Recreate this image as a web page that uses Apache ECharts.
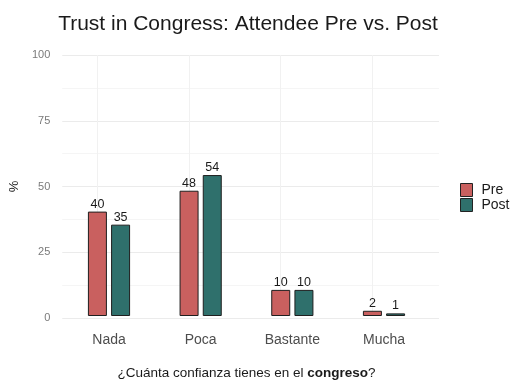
<!DOCTYPE html>
<html>
<head>
<meta charset="utf-8">
<script src="https://cdn.jsdelivr.net/npm/echarts@6/dist/echarts.min.js"></script>
<style>
  html, body { margin: 0; padding: 0; background: #ffffff; }
  #chart { width: 518px; height: 385px; }
</style>
</head>
<body>
<div id="chart"></div>
<script>
// Trust in Congress, attendees before and after
const categories = ['Nada', 'Poca', 'Bastante', 'Mucha'];
const preValues = [40, 48, 10, 2];
const postValues = [35, 54, 10, 1];
const yTicks = [0, 25, 50, 75, 100];

const PRE_COLOR = '#c9605f';
const POST_COLOR = '#2f706c';
const FONT = '"Liberation Sans", Arial, sans-serif';

const chart = echarts.init(document.getElementById('chart'), null, { renderer: 'canvas' });

// Panel spans 0.4..4.6 in category units (ggplot-style expansion),
// bars sit in the inner grid whose bands are one unit wide.
const PANEL_LEFT = 54, PANEL_RIGHT = 439;
const unit = (PANEL_RIGHT - PANEL_LEFT) / 4.2;
const innerLeft = PANEL_LEFT + 0.1 * unit;
const innerRight = 518 - (PANEL_RIGHT - 0.1 * unit);
const TOP = 55, BOTTOM = 385 - 318;

const labelStyle = {
  show: true,
  position: 'top',
  distance: 1,
  color: '#1a1a1a',
  fontSize: 12.5,
  fontFamily: FONT
};

chart.setOption({
  animation: false,
  title: {
    text: 'Trust in Congress: Attendee Pre vs. Post',
    left: 243,
    textAlign: 'center',
    top: 9,
    textStyle: { fontFamily: FONT, fontSize: 21, fontWeight: 'normal', color: '#1a1a1a' }
  },
  legend: {
    orient: 'vertical',
    left: 455,
    top: 178,
    itemWidth: 12,
    itemHeight: 13,
    itemGap: 1,
    icon: 'rect',
    data: ['Pre', 'Post'],
    textStyle: { fontFamily: FONT, fontSize: 14, color: '#1a1a1a', padding: [0, 0, 0, 4] },
    itemStyle: { borderColor: '#222222', borderWidth: 1 }
  },
  grid: [
    { left: PANEL_LEFT, right: 518 - PANEL_RIGHT, top: TOP, bottom: BOTTOM },
    { left: innerLeft, right: innerRight, top: TOP, bottom: BOTTOM }
  ],
  xAxis: [
    {
      gridIndex: 0, type: 'value', min: 0.4, max: 4.6,
      axisLine: { show: false }, axisTick: { show: false }, axisLabel: { show: false },
      splitLine: { show: false }
    },
    {
      gridIndex: 1, type: 'category', data: categories,
      axisLine: { show: false }, axisTick: { show: false },
      axisLabel: { color: '#4d4d4d', fontSize: 14, fontFamily: FONT, margin: 17 },
      name: '{n|¿Cuánta confianza tienes en el }{b|congreso}{n|?}',
      nameLocation: 'middle',
      nameGap: 50,
      nameTextStyle: {
        rich: {
          n: { fontFamily: FONT, fontSize: 13.5, color: '#1a1a1a' },
          b: { fontFamily: FONT, fontSize: 13.5, color: '#1a1a1a', fontWeight: 'bold' }
        }
      }
    }
  ],
  yAxis: [
    {
      gridIndex: 0, type: 'value', min: 0, max: 100, interval: 25,
      axisLine: { show: false }, axisTick: { show: false },
      axisLabel: { color: '#7a7a7a', fontSize: 11, fontFamily: FONT, margin: 12 },
      splitLine: { lineStyle: { color: '#ebebeb', width: 1.1 } },
      minorTick: { show: false, splitNumber: 2 },
      minorSplitLine: { show: true, lineStyle: { color: '#f3f3f3', width: 0.8 } },
      name: '%',
      nameLocation: 'middle',
      nameGap: 38,
      nameRotate: 90,
      nameTextStyle: { fontFamily: FONT, fontSize: 13, color: '#1a1a1a' }
    },
    {
      gridIndex: 1, type: 'value', min: 0, max: 100,
      axisLine: { show: false }, axisTick: { show: false }, axisLabel: { show: false },
      splitLine: { show: false }
    }
  ],
  series: [
    {
      name: 'Pre', type: 'bar', xAxisIndex: 1, yAxisIndex: 1,
      data: preValues,
      barWidth: 19, barGap: '22%',
      itemStyle: { color: PRE_COLOR, borderColor: '#1f1f1f', borderWidth: 1 },
      label: labelStyle,
      markLine: {
        silent: true, symbol: 'none', label: { show: false },
        lineStyle: { color: '#f1f1f1', width: 1, type: 'solid' },
        data: categories.map(c => ({ xAxis: c })),
        z: 0
      },
      z: 3
    },
    {
      name: 'Post', type: 'bar', xAxisIndex: 1, yAxisIndex: 1,
      data: postValues,
      barWidth: 19, barGap: '22%',
      itemStyle: { color: POST_COLOR, borderColor: '#1f1f1f', borderWidth: 1 },
      label: labelStyle,
      z: 3
    }
  ]
});
</script>
</body>
</html>
